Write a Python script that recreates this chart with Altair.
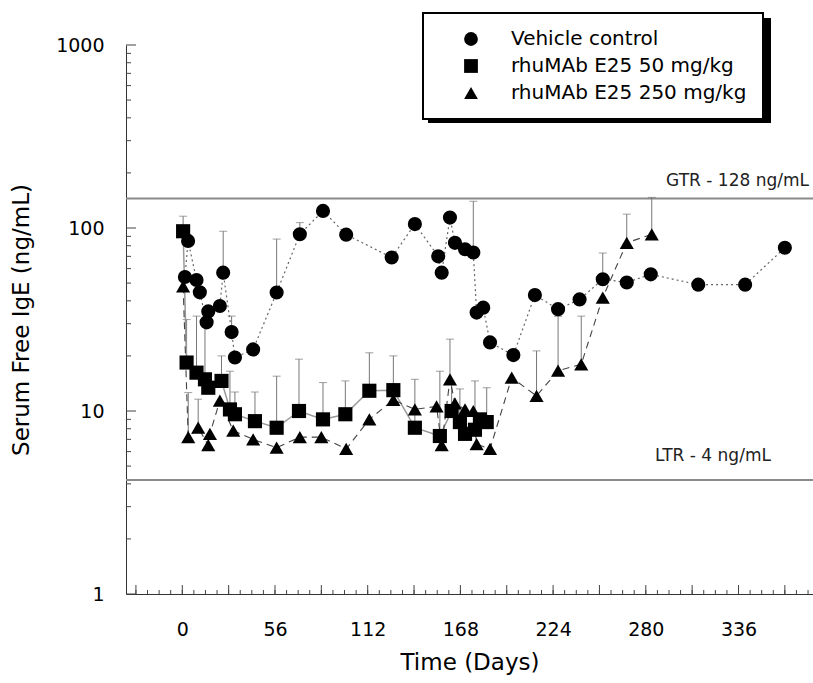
import altair as alt
import pandas as pd

# ---------------- data ----------------
series_names = ["Vehicle control", "rhuMAb E25 50 mg/kg", "rhuMAb E25 250 mg/kg"]
series_shapes = ["circle", "square", "triangle-up"]

vc_days = [1.6, 3.5, 8.6, 10.6, 14.7, 15.7, 22.7, 24.7, 29.8, 31.8, 42.8, 57, 71, 85, 99,
           126.5, 140.5, 154.6, 156.7, 161.7, 164.7, 170.8, 175.8, 177.8, 181.8, 185.9,
           200, 213, 227, 240, 254, 268.5, 283, 311.7, 340, 364]
vc_vals = [54, 85, 52, 44.5, 30.5, 35, 37.5, 57, 27, 19.6, 21.7, 44.4, 92.4, 124, 92,
           69, 105, 70, 57, 114, 83, 76.5, 73.5, 34.5, 36.7, 23.7,
           20.2, 43, 36, 40.7, 52.5, 50.4, 55.8, 49, 49, 78]
vc_err = [None, None, None, None, None, None, None, 96, 33, None, None, 87, 107, None, None,
          None, None, None, None, None, None, None, 140, None, None, None,
          None, None, None, None, 73, None, None, None, None, None]

sq_days = [0.5, 2.6, 8.6, 13.7, 15.7, 23.7, 28.8, 31.8, 43.9, 57, 70.5, 85, 98.5, 113,
           127.5, 140.5, 155.6, 162.7, 167.7, 170.8, 176.8, 179.8, 183.9]
sq_vals = [96, 18.4, 16.2, 14.9, 13.4, 14.6, 10.2, 9.6, 8.8, 8.1, 10, 9.0, 9.6, 12.9,
           13, 8.1, 7.3, 10, 8.7, 7.5, 7.9, 9, 8.7]
sq_err = [116, 31.6, 33, 30, None, 20, 16.5, 12.7, 12.7, 15.5, 19.2, 14.3, 14.6, 20.8,
          20, 14.9, 16.5, 14, 13.2, None, 14.6, None, 13.4]

tr_days = [0.5, 3.6, 9.6, 15.7, 16.7, 22.7, 30.8, 42.8, 57, 71, 84, 99, 113, 127.5,
           140.5, 153.6, 156.7, 161.7, 164.7, 170.8, 175.8, 177.8, 185.9, 199, 214,
           227, 241, 254, 268.5, 283.6]
tr_vals = [48, 7.2, 8.1, 6.5, 7.5, 11.4, 7.8, 7.0, 6.3, 7.2, 7.2, 6.2, 9.0, 11.5,
           10.2, 10.6, 6.5, 14.9, 11, 10.2, 10, 6.6, 6.2, 15.2, 12.1,
           16.6, 18, 41.7, 83, 92.4]
tr_err = [None, 12.6, 11.6, None, None, None, None, None, None, None, None, None, None, None,
          None, None, None, 24.7, None, None, None, None, None, None, 21.3,
          32.9, 33, None, 119, 147]

x_label_values = [0, 56, 112, 168, 224, 280, 336]
x_minor_days = list(range(-28, 379, 7))
x_major_days = list(range(-28, 379, 28))
y_label_values = [1, 10, 100, 1000]
y_minor_values = [m * d for d in (1, 10, 100) for m in range(2, 10)]

ref_levels = [145, 4.2]
ref_labels = ["GTR - 128 ng/mL", "LTR - 4 ng/mL"]

# ---------------- build tables ----------------
def frame(name, days, vals, errs):
    return pd.DataFrame({"series": name, "day": days, "value": vals, "err": errs})

df = pd.concat([
    frame(series_names[0], vc_days, vc_vals, vc_err),
    frame(series_names[1], sq_days, sq_vals, sq_err),
    frame(series_names[2], tr_days, tr_vals, tr_err),
], ignore_index=True)
df_err = df.dropna(subset=["err"])

W, H = 687, 549
FONT = "DejaVu Sans"

x_scale = alt.Scale(domain=[-34, 381], nice=False, zero=False)
y_scale = alt.Scale(type="log", domain=[1, 1000], nice=False)

x_axis = alt.Axis(values=x_label_values, ticks=False, tickSize=0, labelPadding=26,
                  labelFontSize=19, labelFont=FONT, labelColor="black",
                  domainColor="#333", domainWidth=1, grid=False,
                  title="Time (Days)", titleFontSize=23, titleFont=FONT,
                  titleFontWeight="normal", titleColor="black", titlePadding=12)
y_axis = alt.Axis(values=y_label_values, format="d", ticks=False, tickSize=0, labelPadding=22,
                  labelFontSize=19, labelFont=FONT, labelColor="black",
                  domainColor="#333", domainWidth=1, grid=False,
                  title="Serum Free IgE (ng/mL)", titleFontSize=23, titleFont=FONT,
                  titleFontWeight="normal", titleColor="black", titlePadding=22)

X = alt.X("day:Q", scale=x_scale, axis=x_axis)
Y = alt.Y("value:Q", scale=y_scale, axis=y_axis)

# reference lines
ref_df = pd.DataFrame({"value": ref_levels, "label": ref_labels})
ref_rules = alt.Chart(ref_df).mark_rule(color="#8a8a8a", strokeWidth=2).encode(y=Y)
gtr_text = alt.Chart(ref_df.iloc[[0]]).mark_text(
    align="right", baseline="bottom", dy=-8, fontSize=17, font=FONT, color="#222"
).encode(x=alt.value(W - 4), y=Y, text="label:N")
ltr_text = alt.Chart(ref_df.iloc[[1]]).mark_text(
    align="center", baseline="bottom", dy=-15, fontSize=17, font=FONT, color="#222"
).encode(x=alt.value(587), y=Y, text="label:N")

# axis ticks (inward)
ymin_df = pd.DataFrame({"value": y_minor_values})
ymaj_df = pd.DataFrame({"value": y_label_values})
y_minor = alt.Chart(ymin_df).mark_rule(color="#444", strokeWidth=1).encode(
    y=Y, x=alt.value(0), x2=alt.value(5))
y_major = alt.Chart(ymaj_df).mark_rule(color="#444", strokeWidth=1).encode(
    y=Y, x=alt.value(0), x2=alt.value(10))
xmin_df = pd.DataFrame({"day": x_minor_days})
xmaj_df = pd.DataFrame({"day": x_major_days})
x_minor = alt.Chart(xmin_df).mark_rule(color="#444", strokeWidth=1).encode(
    x=X, y=alt.value(H), y2=alt.value(H - 4))
x_major = alt.Chart(xmaj_df).mark_rule(color="#444", strokeWidth=1).encode(
    x=X, y=alt.value(H), y2=alt.value(H - 9))

# error bars
err_rules = alt.Chart(df_err).mark_rule(color="#777", strokeWidth=1).encode(
    x=X, y=Y, y2="err:Q")
err_caps = alt.Chart(df_err).mark_tick(orient="horizontal", size=8, thickness=1, color="#777").encode(
    x=X, y=alt.Y("err:Q", scale=y_scale, axis=y_axis))

# connecting lines
line_vc = alt.Chart(df).transform_filter(alt.datum.series == series_names[0]).mark_line(
    color="#666", strokeWidth=1.2, strokeDash=[2, 3]).encode(x=X, y=Y)
line_sq = alt.Chart(df).transform_filter(alt.datum.series == series_names[1]).mark_line(
    color="#999", strokeWidth=1.5).encode(x=X, y=Y)
line_tr = alt.Chart(df).transform_filter(alt.datum.series == series_names[2]).mark_line(
    color="#444", strokeWidth=1.1, strokeDash=[7, 5]).encode(x=X, y=Y)

# shadow behind legend box (decoration)
shadow = alt.Chart(pd.DataFrame({"k": [0]})).mark_rect(color="black").encode(
    x=alt.value(302), x2=alt.value(645), y=alt.value(-27), y2=alt.value(78))

points = alt.Chart(df).mark_point(filled=True, color="black", opacity=1, size=200).encode(
    x=X, y=Y,
    shape=alt.Shape("series:N",
                    scale=alt.Scale(domain=series_names, range=series_shapes),
                    legend=alt.Legend(title=None, orient="none", legendX=297, legendY=-32,
                                      fillColor="white", strokeColor="black",
                                      padding=16, rowPadding=7, symbolOffset=22,
                                      labelOffset=30, symbolSize=190,
                                      symbolFillColor="black", symbolStrokeColor="black",
                                      labelFont=FONT, labelFontSize=20, labelColor="black",
                                      labelLimit=400)),
)

chart = alt.layer(
    ref_rules, gtr_text, ltr_text, y_minor, y_major, x_minor, x_major,
    err_rules, err_caps, line_vc, line_sq, line_tr, shadow, points
).properties(
    width=W, height=H,
    autosize=alt.AutoSizeParams(type="none"),
    padding={"left": 126, "top": 45, "right": 0, "bottom": 89},
    background="white",
).configure_view(stroke=None).configure_legend(strokeWidth=2)

chart.save("out.html", embed_options={"renderer": "svg", "actions": False})
